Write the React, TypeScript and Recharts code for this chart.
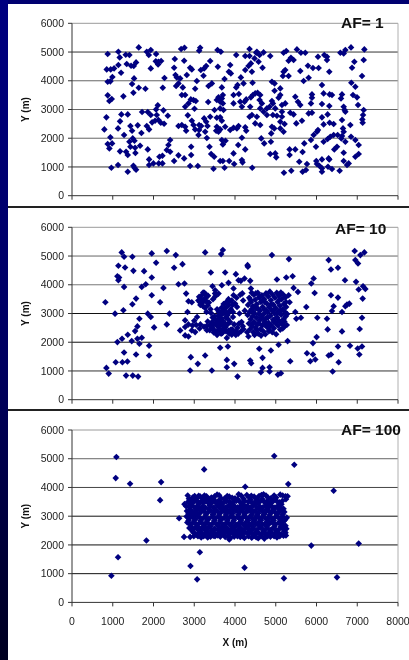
import { ScatterChart, Scatter, XAxis, YAxis, ReferenceLine } from "recharts";

const xTicks = [0, 1000, 2000, 3000, 4000, 5000, 6000, 7000, 8000];
const yTicks = [0, 1000, 2000, 3000, 4000, 5000, 6000];
const gridLevels = [1000, 2000, 3000, 4000, 5000];

const af1Points = [
  [794,2308],[844,2726],[876,4930],[852,4396],[950,4396],[1032,4431],[876,3967],[942,3979],[991,4130],[876,3492],[917,3294],[975,3364],
  [942,2030],[876,1798],[983,1821],[917,1647],[966,974],[1130,1067],[1138,5011],[1171,4814],[1138,4547],[1204,4280],[1261,3457],[1212,2830],
  [1179,2587],[1130,2343],[1278,2111],[1179,1543],[1327,1531],[1368,1415],[1368,835],[1368,2830],[1319,4907],[1409,4895],[1343,4582],[1450,4524],
  [1515,4512],[1572,4640],[1523,4083],[1474,3886],[1507,3584],[1638,3758],[1802,3724],[1433,2424],[1474,2262],[1491,1995],[1532,1914],[1409,1879],
  [1433,1705],[1548,1670],[1671,1740],[1556,1485],[1507,1044],[1532,974],[1572,905],[1613,2448],[1703,2181],[1638,5162],[1835,5011],[1933,5069],
  [1884,4895],[2064,4930],[1933,4431],[2056,4675],[2121,4663],[2187,4686],[2113,4570],[2269,4095],[2228,3758],[1720,2912],[1859,2912],[1933,2807],
  [1835,2424],[1892,2308],[2080,2807],[2105,3144],[2064,3004],[2244,2970],[2351,2784],[1966,2552],[2039,2610],[2121,2633],[2179,2540],[2260,2506],
  [1859,1612],[1892,1264],[1892,1067],[1998,1125],[2129,1125],[2219,1125],[2146,1357],[2219,1392],[2408,1937],[2367,1763],[2326,1589],[2408,1531],
  [2506,1206],[2613,1404],[2752,1299],[2899,1032],[3088,1032],[3473,940],[2523,4756],[2506,4454],[2539,4199],[2572,4118],[2555,3816],[2613,3909],
  [2654,4083],[2695,3503],[2777,3503],[2719,3770],[2678,5104],[2760,5150],[2752,4698],[2817,4199],[2899,4454],[2940,4396],[3063,3990],[3022,3724],
  [2916,3352],[2981,3329],[3038,3294],[2858,3213],[2777,3097],[3006,3028],[2842,2796],[2613,2424],[2695,2459],[2777,2401],[2801,2262],[2940,2610],
  [2981,2459],[3022,2308],[3120,2459],[3170,2424],[3120,2285],[3104,2111],[3268,2227],[3309,2007],[2924,1705],[2924,1415],[3145,5150],[3120,5046],
  [3243,4431],[3161,4373],[3292,4512],[3391,4686],[3227,4176],[3350,3816],[3432,3909],[3342,3260],[3243,2691],[3292,2575],[3391,2749],[3325,2424],
  [3374,1705],[3415,1450],[3489,1357],[3571,5069],[3653,5011],[3579,4489],[3743,4060],[3677,3770],[3702,3503],[3595,3422],[3677,3387],[3554,3329],
  [3636,3271],[3702,3213],[3497,2981],[3636,3039],[3718,2981],[3554,2714],[3636,2726],[3677,2610],[3554,2401],[3636,2308],[3538,2262],[3595,2227],
  [3759,2401],[3882,2285],[3964,2366],[4087,2424],[4046,2343],[3677,1937],[3702,1786],[3767,1914],[3636,1206],[3702,1206],[3743,974],[3857,1206],
  [3964,1473],[3980,1102],[4079,1763],[4169,2018],[4169,1241],[4185,1160],[4251,1612],[4251,2378],[4275,2262],[4423,974],[3882,4547],[3849,4315],
  [3898,4257],[3964,3213],[3964,3503],[4030,4895],[4030,3770],[4062,3851],[4095,3538],[4144,4118],[4210,3909],[4251,4373],[4357,5104],[4251,4860],
  [4357,4860],[4390,4605],[4332,4512],[4415,4315],[4431,3932],[4128,3271],[4169,3097],[4234,3271],[4275,3352],[4390,3422],[4439,3503],[4496,3561],
  [4554,3584],[4619,3503],[4373,3097],[4415,2807],[4357,2749],[4537,2749],[4496,2517],[4619,2459],[4521,4976],[4537,5011],[4480,4779],[4603,4895],
  [4578,4663],[4676,4454],[4701,4988],[4865,4860],[4603,3329],[4660,3213],[4619,3039],[4701,2923],[4783,2807],[4644,1995],[4717,1821],[4881,1879],
  [4865,1450],[4988,1473],[5012,1334],[4783,3039],[4849,3097],[4906,3294],[4930,3213],[4906,3967],[4971,3909],[4971,3654],[5111,3735],[5111,3503],
  [5070,3410],[5233,3213],[5152,3155],[4988,3039],[4930,2807],[5029,2784],[5152,2923],[5152,2749],[5111,2575],[5217,2494],[4906,2401],[4963,2343],
  [4889,2169],[5111,2343],[5192,2227],[5201,800],[5381,870],[5340,1612],[5340,1415],[5479,1612],[5577,1183],[5659,1520],[5766,1102],[5659,835],
  [5741,893],[5700,1821],[5192,4976],[5258,5034],[5373,4802],[5315,4698],[5438,4721],[5192,4315],[5233,4373],[5176,4164],[5315,4164],[5520,5092],
  [5618,4976],[5725,4976],[5602,4338],[5684,3990],[5807,4106],[5790,4524],[5913,4443],[6052,4443],[5479,3445],[5544,3271],[5602,3155],[5356,2888],
  [5438,2830],[5643,2610],[5504,2517],[5807,2865],[5889,2888],[5889,3526],[5889,3410],[5864,3213],[6036,4837],[6191,4895],[6257,4837],[6257,4721],
  [6314,4315],[6134,3851],[6175,3561],[6322,3526],[6380,3503],[6134,3190],[6314,3120],[6273,2830],[6134,2726],[6175,2482],[6322,2540],[6421,2494],
  [6011,2227],[5930,2111],[5864,1937],[5987,1705],[6036,2285],[6339,2053],[6421,2111],[6175,1879],[6273,1972],[6519,2111],[5995,1206],[6011,1102],
  [6069,1044],[6134,951],[6134,835],[6134,1264],[6298,1299],[6314,1264],[6282,1009],[6380,928],[6437,1612],[6503,1705],[6568,870],[6609,1995],
  [6626,2076],[6626,2633],[6626,3526],[6601,3387],[6667,3097],[6691,2981],[6708,2923],[6585,4976],[6667,4953],[6708,5069],[6847,5162],[6929,4663],
  [6872,4454],[6855,3932],[6953,3793],[6896,3503],[6994,3422],[7019,3155],[6650,2343],[6667,2227],[6708,1879],[6830,2459],[6667,1496],[6667,1206],
  [6790,1125],[6749,1067],[6847,2053],[6953,1937],[7035,1763],[6953,1357],[7035,1450],[7158,2981],[7142,2807],[7125,2656],[7133,2540],[7174,5092],
  [7158,4721],[7117,4164],
];

const af10Outer = [
  [819,3390],[844,1107],[901,909],[1073,1305],[1056,2994],[1114,2004],[1138,4660],[1114,4299],[1155,4252],[1138,4159],[1220,5126],[1278,4975],
  [1302,4602],[1278,3926],[1261,3111],[1228,2120],[1237,1305],[1278,1643],[1360,1328],[1327,839],[1491,839],[1622,804],[1368,2260],[1482,4975],
  [1507,4485],[1482,3320],[1572,3518],[1548,2388],[1466,2039],[1605,2551],[1654,2819],[1572,1573],[1605,2120],[1712,2155],[1654,1946],[1769,4474],
  [1712,3926],[1810,4019],[1957,5091],[2064,4765],[1957,4252],[1957,3635],[1859,2994],[1933,2878],[2015,2516],[1892,1876],[1892,1538],[2244,3891],
  [2162,3390],[2326,5173],[2547,5033],[2506,4590],[2613,4019],[2760,4043],[2711,4718],[2391,2994],[2326,2621],[2654,2412],[2776,2761],[2801,3693],
  [2858,3425],[2834,3052],[2940,3390],[2776,2528],[2858,2621],[2957,2586],[2776,2237],[2858,2202],[2940,2412],[3022,2353],[2916,1480],[2899,1014],
  [3088,1247],[3268,1538],[3432,1014],[3268,5126],[3407,4427],[3661,5068],[3702,5208],[3759,4427],[3677,3984],[3841,4066],[3448,3949],[3514,3810],
  [3595,3693],[3636,1806],[3825,1852],[3800,1386],[3800,1130],[3980,1247],[4062,804],[4021,4369],[4087,4159],[4234,4217],[4144,4136],[4308,4683],
  [4316,4625],[4373,4136],[3964,3868],[3964,3635],[4390,3868],[4373,1363],[4398,1270],[4595,1771],[4676,1456],[4635,955],[4676,1107],[4848,1130],
  [4848,979],[4881,1713],[4906,5033],[5029,4182],[5070,1911],[5053,874],[5127,920],[5291,2039],[5356,1340],[5258,4252],[5323,4893],[5414,4299],
  [5438,3891],[5544,3751],[5315,3635],[5340,3390],[5479,3052],[5504,2819],[5618,2854],[5749,3227],[5872,4043],[5930,4217],[5954,3716],[6020,2854],
  [5913,1969],[6003,2178],[5766,1619],[5848,1340],[5913,1573],[5971,1398],[6257,2819],[6273,2447],[6298,4858],[6355,4532],[6527,4590],[6355,3635],
  [6380,3087],[6421,3250],[6527,3553],[6699,4159],[6626,3052],[6708,3250],[6749,3309],[6806,3343],[6298,1538],[6355,1573],[6396,979],[6527,1852],
  [6544,1305],[6626,2377],[6822,1876],[6937,5173],[6953,4858],[7019,4742],[7076,5033],[7174,5126],[6970,4101],[7035,3833],[7142,3949],[7199,3856],
  [7133,3518],[7117,2854],[7060,2458],[7011,1782],[7117,1852],[7051,1573],
];

const af10LeftBlob = [
  [3000,2750],[3050,2600],[3100,3450],[3130,2480],[3150,3300],[3170,3500],[3200,3650],[3230,3420],[3250,3720],[3260,3200],[3280,3550],[3300,3050],
  [3310,2420],[3340,3620],[3360,3380],[3390,2600],[3400,3150],[3420,2500],[3440,2700],[3460,3500],[3480,2430],[3500,2900],[3510,3700],[3530,2350],
  [3540,2650],[3560,3150],[3580,2800],[3600,3050],[3610,2450],[3630,2950],[3650,2620],[3660,2300],[3670,3200],[3690,2750],[3700,3000],[3720,2480],
  [3740,3150],[3760,2650],[3770,2850],[3780,2380],[3790,3400],[3800,2150],[3820,2950],[3840,3500],[3850,3300],[3860,2300],[3880,2700],[3900,3150],
  [3920,3450],[3930,2450],[3950,3050],[3970,2350],[4000,3350],[4020,2250],[4040,3550],[4060,2500],[4080,2300],[4100,2650],[4110,3000],[4130,3650],
  [4160,2700],[4180,3700],[4200,3450],[4210,2450],[4240,3100],[3180,3380],[3260,3480],[3330,3280],[3520,3600],[3600,2570],[3710,2560],[3560,2380],
  [3470,2610],[3660,2840],[3610,2720],[3730,3010],[3870,3080],[3950,2880],[3810,2610],[3690,2320],[3920,2260],[3840,2400],
  [3120,3580],[3220,3730],[3290,3650],[3140,3390],[3210,3260],[3290,3420],[3070,2880],[3150,2620],[3240,2540],[3330,2720],[3480,2340],[3570,2560],
  [3640,2420],[3520,2780],[3450,2490],[3590,2930],[3680,2640],[3760,2510],[3830,2800],[3890,2430],[3980,2620],[4030,2380],[3720,3330],[3780,3210],
  [3860,3420],[3940,3300],[4050,3230],[3680,3080],[3800,3030],[4150,2380],[4190,2560],[3300,2560],[3380,2420],[3450,2860],[3560,2250],[3410,3020],
];

const af10RightBlob = [
  [4300,2350],[4310,2950],[4320,3300],[4340,2650],[4350,3550],[4360,3050],[4370,2450],[4385,2800],[4395,3400],[4405,3150],[4420,2560],[4430,2900],
  [4440,3250],[4450,2350],[4460,3650],[4470,2700],[4480,3000],[4495,3480],[4505,2500],[4515,3180],[4525,2850],[4535,3320],[4550,2620],[4560,3720],
  [4570,2300],[4580,2980],[4590,3560],[4600,2760],[4615,3100],[4625,2450],[4635,3400],[4650,2880],[4660,3630],[4670,2580],[4680,3230],[4695,2380],
  [4705,2980],[4715,3500],[4725,2700],[4735,3130],[4745,2280],[4760,3700],[4770,2840],[4780,3350],[4790,2520],[4800,3040],[4815,3590],[4825,2680],
  [4835,3220],[4845,2420],[4855,3760],[4870,2920],[4880,3460],[4890,2600],[4900,3120],[4915,2350],[4925,3650],[4935,2780],[4945,3300],[4955,2490],
  [4970,3000],[4980,3550],[4990,2680],[5000,3180],[5010,2280],[5025,3720],[5035,2860],[5045,3400],[5055,2580],[5070,3080],[5080,3620],[5090,2740],
  [5100,3270],[5110,2440],[5125,3730],[5135,2960],[5145,3500],[5155,2640],[5170,3150],[5180,3660],[5190,2800],[5200,3330],[5215,2560],[5225,3050],
  [5235,3560],[5245,2900],[5255,3230],[5270,2600],[5280,2980],[4330,2200],[4410,3720],[4480,2250],[4560,3170],[4640,2230],[4730,3400],[4810,2860],
  [4890,3330],[4960,2720],[5040,3000],[5120,3110],[5210,2720],[4380,3480],[4450,3050],[4530,2440],[4610,3600],[4690,2830],[4770,3090],[4850,2560],
  [4930,3090],[5010,2840],[5090,3480],[5170,2480],[5250,3400],[4430,2650],[4510,3700],[4590,2650],[4670,3450],[4750,2600],[4830,2380],
];

const af100Outer = [
  [1089,5059],[1073,4326],[1425,4129],[2187,4187],[3243,4629],[2162,3559],[1826,2152],[1130,1570],[966,930],[2907,1268],[3137,1745],[3071,802],
  [4234,1210],[5201,837],[5872,1977],[7035,2047],[6503,872],[6421,3884],[5455,4792],[4963,5094],[5307,4117],[4251,4024],[2629,2931],
];

const af100Block = [
  [2840,3720],[2870,3610],[2960,3650],[3010,3700],[3060,3620],[3110,3710],[3150,3680],[3200,3640],[3250,3720],[3300,3690],[3360,3600],[3420,3650],
  [3500,3690],[3560,3750],[3610,3730],[3660,3620],[3740,3610],[3810,3700],[3860,3680],[3930,3640],[4000,3620],[4090,3760],[4150,3720],[4210,3610],
  [4290,3740],[4350,3650],[4400,3710],[4470,3680],[4530,3600],[4590,3700],[4650,3740],[4700,3760],[4760,3720],[4810,3650],[4880,3620],[4960,3720],
  [5010,3650],[5110,3750],[5170,3720],[5240,3690],[5290,3690],
  [2850,3500],[2910,3520],[2970,3480],[3040,3540],[3090,3500],[3170,3510],[3230,3470],[3290,3530],[3340,3470],[3440,3520],[3520,3480],[3590,3530],
  [3650,3500],[3720,3470],[3790,3520],[3870,3510],[3950,3480],[4030,3530],[4120,3500],[4180,3460],[4240,3530],[4330,3500],[4420,3470],[4500,3510],
  [4570,3480],[4630,3530],[4720,3490],[4790,3530],[4860,3470],[4930,3510],[5020,3530],[5090,3480],[5160,3530],
  [2760,3420],[2800,3350],[2880,3320],[2940,3370],[3010,3300],[3080,3360],[3130,3280],[3210,3340],[3270,3300],[3380,3360],[3470,3300],[3560,3370],
  [3620,3310],[3690,3350],[3770,3300],[3840,3370],[3910,3290],[3990,3350],[4070,3310],[4150,3370],[4220,3290],[4300,3350],[4370,3310],[4450,3370],
  [4540,3290],[4610,3340],[4680,3300],[4750,3370],[4830,3310],[4900,3350],[4980,3300],[5060,3370],[5130,3280],
  [2820,3180],[2860,3100],[2930,3160],[2990,3120],[3060,3190],[3150,3120],[3240,3170],[3320,3110],[3400,3190],[3490,3130],[3570,3170],[3640,3110],
  [3720,3190],[3790,3120],[3860,3160],[3940,3100],[4020,3190],[4100,3130],[4180,3170],[4260,3120],[4340,3190],[4420,3130],[4490,3170],[4570,3100],
  [4660,3180],[4740,3130],[4820,3190],[4890,3120],[4970,3160],[5050,3110],[5120,3190],[5210,3150],
  [2810,2990],[2870,2920],[2950,2970],[3030,2900],[3110,2980],[3190,2910],[3270,2960],[3350,2900],[3440,2980],[3520,2930],[3600,2990],[3680,2900],
  [3750,2960],[3830,2920],[3900,2990],[3980,2910],[4060,2970],[4130,2900],[4210,2980],[4290,2930],[4370,2990],[4440,2900],[4520,2960],[4600,2920],
  [4680,2990],[4760,2910],[4840,2970],[4920,2900],[5000,2980],[5080,2930],[5160,2990],[5270,2950],[5230,2880],
  [2830,2780],[2900,2720],[2980,2790],[3060,2710],[3140,2780],[3220,2720],[3300,2790],[3380,2700],[3460,2760],[3550,2720],[3630,2790],[3710,2710],
  [3790,2770],[3870,2720],[3950,2790],[4030,2700],[4110,2770],[4190,2730],[4270,2790],[4350,2710],[4430,2770],[4510,2720],[4590,2790],[4670,2700],
  [4750,2760],[4830,2720],[4910,2790],[4990,2710],[5070,2770],[5150,2730],
  [2880,2590],[2950,2530],[3020,2600],[3100,2520],[3180,2580],[3260,2530],[3340,2600],[3420,2510],[3500,2570],[3580,2530],[3660,2600],[3740,2520],
  [3820,2570],[3900,2530],[3980,2600],[4060,2510],[4140,2580],[4220,2530],[4300,2600],[4380,2510],[4460,2570],[4540,2530],[4620,2600],[4700,2520],
  [4780,2580],[4860,2530],[4940,2590],[5020,2510],[5100,2570],[5190,2540],[5260,2560],
  [2990,2420],[3050,2360],[3120,2430],[3190,2380],[3280,2420],[3360,2360],[3440,2440],[3530,2380],[3610,2430],[3690,2370],[3770,2440],[3850,2380],
  [3930,2420],[4010,2360],[4090,2430],[4170,2370],[4250,2440],[4330,2380],[4410,2430],[4490,2360],[4570,2420],[4650,2380],[4730,2430],[4810,2370],
  [4890,2440],[4970,2380],[5050,2420],[5130,2370],[5240,2420],
  [2750,2280],[2900,2280],[2990,2300],[3170,2260],[3230,2300],[3330,2260],[3400,2290],[3510,2300],[3640,2290],[3760,2280],[3860,2190],[3890,2250],
  [3980,2290],[4060,2300],[4130,2280],[4230,2240],[4330,2300],[4410,2250],[4520,2270],[4570,2230],[4720,2220],[4740,2290],[4870,2290],[4960,2300],
  [5030,2260],[5190,2320],[5250,2330],
];

// second pass over the block, fills the gaps between the rows above
const af100Fill = [
  [2900,3430],[3000,3590],[3120,3430],[3270,3600],[3410,3440],[3480,3590],[3630,3420],[3780,3600],[3900,3420],[4060,3600],[4200,3410],[4380,3590],
  [4510,3420],[4670,3600],[4800,3430],[4990,3600],[5140,3420],[5250,3590],[2900,3230],[3040,3250],[3190,3230],[3360,3240],[3520,3220],[3670,3250],
  [3810,3220],[3960,3230],[4130,3250],[4310,3220],[4400,3240],[4590,3240],[4780,3230],[4940,3230],[5080,3240],[5190,3260],[2880,3050],[3000,3040],
  [3090,3060],[3280,3040],[3460,3060],[3610,3040],[3780,3050],[3920,3030],[4080,3050],[4230,3040],[4410,3050],[4540,3030],[4710,3060],[4850,3040],
  [5030,3050],[5170,3060],[2860,2850],[3010,2860],[3160,2840],[3320,2850],[3490,2840],[3640,2860],[3810,2840],[3970,2850],[4150,2860],[4320,2850],
  [4480,2840],[4640,2860],[4810,2840],[4950,2850],[5120,2860],[5200,2830],[2920,2650],[3090,2640],[3250,2660],[3400,2640],[3590,2660],[3760,2650],
  [3930,2640],[4090,2660],[4260,2640],[4420,2650],[4600,2660],[4770,2650],[4970,2650],[5130,2640],[5240,2670],[2960,2470],[3150,2480],[3310,2470],
  [3470,2490],[3640,2480],[3820,2470],[3990,2480],[4190,2470],[4350,2480],[4530,2470],[4700,2460],[4860,2480],[5030,2470],[5210,2470],[3090,2300],
  [3290,2330],[3470,2320],[3580,2330],[3830,2310],[4190,2310],[4470,2310],[4640,2300],[4800,2300],[5100,2300],
];

// how dark each horizontal gridline prints in each panel
const af1Shades = ["#333", "#666", "#666", "#666", "#333"];
const af10Shades = ["#333", "#111", "#111", "#777", "#666"];
const af100Shades = ["#111", "#111", "#111", "#444", "#666"];

const toRows = (pts: number[][]) => pts.map(([x, y]) => ({ x, y }));

const Diamond = ({ cx, cy }: any) => {
  const r = 3.3;
  return <path d={`M${cx} ${cy - r}L${cx + r} ${cy}L${cx} ${cy + r}L${cx - r} ${cy}Z`} fill="#000080" />;
};

const tickStyle = { fill: "#222", fontSize: 10.5, fontFamily: "Liberation Sans, Arial, sans-serif" };
const axisLabelStyle = { fill: "#111", fontSize: 10, fontWeight: 700, fontFamily: "Liberation Sans, Arial, sans-serif" };

interface PanelProps {
  top: number;
  height: number;
  plotTop: number;
  points: number[][];
  shades: string[];
  title: string;
  titleX: number;
  titleY: number;
  showX?: boolean;
}

const PLOT_H = 172.4;

const Panel = ({ top, height, plotTop, points, shades, title, titleX, titleY, showX }: PanelProps) => (
  <div style={{ position: "absolute", left: 0, top, width: 409, height }}>
    <ScatterChart
      width={409}
      height={height}
      margin={{ top: plotTop, right: 11, bottom: 0, left: 0 }}
      style={{ position: "absolute", left: 0, top: 0 }}
    >
      <XAxis
        type="number"
        dataKey="x"
        domain={[0, 8000]}
        ticks={xTicks}
        interval={0}
        height={height - plotTop - PLOT_H}
        tick={tickStyle}
        tickFormatter={(v: number) => (showX ? String(v) : "")}
        tickSize={4}
        tickMargin={11}
        stroke="#333"
        allowDataOverflow
        label={showX ? { value: "X (m)", position: "insideBottom", offset: 14, style: axisLabelStyle } : undefined}
      />
      <YAxis
        type="number"
        dataKey="y"
        domain={[0, 6000]}
        ticks={yTicks}
        interval={0}
        width={72}
        tick={tickStyle}
        tickSize={4}
        tickMargin={4}
        stroke="#333"
        label={{ value: "Y (m)", angle: -90, position: "insideLeft", offset: 25, style: { ...axisLabelStyle, textAnchor: "middle" } }}
      />
      {gridLevels.map((level, i) => (
        <ReferenceLine key={level} y={level} stroke={shades[i]} />
      ))}
      <ReferenceLine y={6000} stroke="#9a9a9a" />
      <ReferenceLine x={8000} stroke="#b0b0b0" />
      <Scatter data={toRows(points)} shape={Diamond} isAnimationActive={false} />
    </ScatterChart>
    <div
      style={{
        position: "absolute",
        left: titleX,
        top: titleY,
        fontFamily: "Liberation Sans, Arial, sans-serif",
        fontWeight: 700,
        fontSize: 15.5,
        lineHeight: "16px",
        color: "#111",
        whiteSpace: "nowrap",
      }}
    >
      {title}
    </div>
  </div>
);

export default function App() {
  return (
    <div style={{ position: "absolute", left: 0, top: 0, width: 409, height: 660, background: "#fff", overflow: "hidden", filter: "blur(0.35px)" }}>
      <Panel top={0} height={206} plotTop={23.3} points={af1Points} shades={af1Shades} title="AF= 1" titleX={341} titleY={15} />
      <Panel top={207} height={203} plotTop={20.3} points={[...af10Outer, ...af10LeftBlob, ...af10RightBlob]} shades={af10Shades} title="AF= 10" titleX={335} titleY={14} />
      <Panel top={410} height={250} plotTop={20} points={[...af100Outer, ...af100Block, ...af100Fill]} shades={af100Shades} title="AF= 100" titleX={341} titleY={12} showX />
      <div style={{ position: "absolute", left: 0, top: 0, width: 409, height: 4, background: "#000070" }} />
      <div style={{ position: "absolute", left: 0, top: 0, width: 8, height: 660, background: "linear-gradient(#000080, #000060 55%, #000020)" }} />
      <div style={{ position: "absolute", left: 8, top: 206, width: 401, height: 1.5, background: "#222" }} />
      <div style={{ position: "absolute", left: 8, top: 409, width: 401, height: 1.5, background: "#222" }} />
    </div>
  );
}
